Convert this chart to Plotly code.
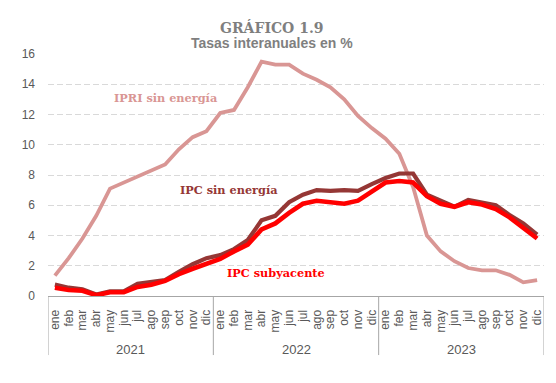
import plotly.graph_objects as go

meses = ['ene', 'feb', 'mar', 'abr', 'may', 'jun', 'jul', 'ago', 'sep', 'oct', 'nov', 'dic']
anios = ['2021', '2022', '2023']

ipri_sin_energia = [1.35, 2.5, 3.8, 5.3, 7.1, 7.5, 7.9, 8.3, 8.7, 9.7, 10.5, 10.9,
                    12.1, 12.3, 13.8, 15.5, 15.3, 15.3, 14.7, 14.3, 13.8, 13.0, 11.9, 11.1,
                    10.4, 9.4, 7.2, 4.0, 2.95, 2.3, 1.85, 1.7, 1.7, 1.4, 0.9, 1.05]
ipc_sin_energia = [0.75, 0.55, 0.45, 0.1, 0.3, 0.3, 0.8, 0.9, 1.05, 1.6, 2.1, 2.5,
                   2.7, 3.1, 3.7, 5.0, 5.3, 6.2, 6.7, 7.0, 6.95, 7.0, 6.95, 7.4,
                   7.8, 8.1, 8.1, 6.7, 6.3, 5.9, 6.35, 6.2, 6.0, 5.35, 4.8, 4.05]
ipc_subyacente = [0.55, 0.4, 0.35, 0.05, 0.25, 0.25, 0.6, 0.75, 1.0, 1.45, 1.8, 2.1,
                  2.45, 2.95, 3.4, 4.4, 4.8, 5.5, 6.1, 6.3, 6.2, 6.1, 6.3, 6.9,
                  7.5, 7.6, 7.5, 6.6, 6.1, 5.9, 6.2, 6.05, 5.75, 5.2, 4.5, 3.8]

etiquetas_meses = meses * len(anios)
x = list(range(len(etiquetas_meses)))

c_ipri = '#D99694'
c_sin = '#953735'
c_sub = '#FF0000'
gris = '#595959'
eje = '#A6A6A6'

fig = go.Figure()
fig.add_trace(go.Scatter(x=x, y=ipri_sin_energia, mode='lines', name='IPRI sin energía',
                         line=dict(color=c_ipri, width=3.8)))
fig.add_trace(go.Scatter(x=x, y=ipc_sin_energia, mode='lines', name='IPC sin energía',
                         line=dict(color=c_sin, width=4.2)))
fig.add_trace(go.Scatter(x=x, y=ipc_subyacente, mode='lines', name='IPC subyacente',
                         line=dict(color=c_sub, width=4.6)))

# year separators and labels
for i in range(len(anios) + 1):
    xv = i * 12 - 0.5
    fig.add_shape(type='line', xref='x', yref='paper', x0=xv, x1=xv, y0=0, y1=-0.244,
                  line=dict(color=eje, width=1))
for i, a in enumerate(anios):
    fig.add_annotation(x=i * 12 + 5.5, y=-0.22, xref='x', yref='paper', text=a,
                       showarrow=False, yanchor='middle',
                       font=dict(family='Liberation Sans', size=13, color=gris))

# series labels
lab_font = 'DejaVu Serif'
fig.add_annotation(x=8.04, y=13.08, xref='x', yref='y', text='<b>IPRI sin energía</b>',
                   showarrow=False, font=dict(family=lab_font, size=11.3, color=c_ipri))
fig.add_annotation(x=12.65, y=7.02, xref='x', yref='y', text='<b>IPC sin energía</b>',
                   showarrow=False, font=dict(family=lab_font, size=11.3, color=c_sin))
fig.add_annotation(x=16.06, y=1.54, xref='x', yref='y', text='<b>IPC subyacente</b>',
                   showarrow=False, font=dict(family=lab_font, size=11.3, color=c_sub))

# titles
fig.add_annotation(x=(272 - 48) / 496, y=1 + (54 - 27) / 242, xref='paper', yref='paper',
                   text='<b>GRÁFICO 1.9</b>', showarrow=False, yanchor='middle',
                   font=dict(family='DejaVu Serif', size=14, color='#7F7F7F'))
fig.add_annotation(x=(272 - 48) / 496, y=1 + (54 - 42.5) / 242, xref='paper', yref='paper',
                   text='<b>Tasas interanuales en %</b>', showarrow=False, yanchor='middle',
                   font=dict(family='Liberation Sans', size=14, color='#7F7F7F'))

fig.update_layout(
    width=556, height=383,
    margin=dict(l=48, r=12, t=54, b=87),
    paper_bgcolor='white', plot_bgcolor='white',
    showlegend=False,
    xaxis=dict(range=[-0.5, 35.5], tickmode='array', tickvals=x, ticktext=etiquetas_meses,
               tickangle=-90, showgrid=False, zeroline=False, showline=True,
               linecolor=eje, linewidth=1, ticks='', ticklabelstandoff=8, automargin=False,
               tickfont=dict(family='Liberation Sans', size=12, color=gris)),
    yaxis=dict(range=[0, 16], dtick=2, showgrid=True, gridcolor='#D9D9D9',
               griddash='6px,3px', gridwidth=1, zeroline=False, showline=False,
               ticks='', ticklabelstandoff=12, automargin=False,
               tickfont=dict(family='Liberation Sans', size=12, color=gris)),
)

fig.write_html('out.html', config={'displayModeBar': False},
               post_script="document.body.style.margin='0';document.body.style.padding='0';")
